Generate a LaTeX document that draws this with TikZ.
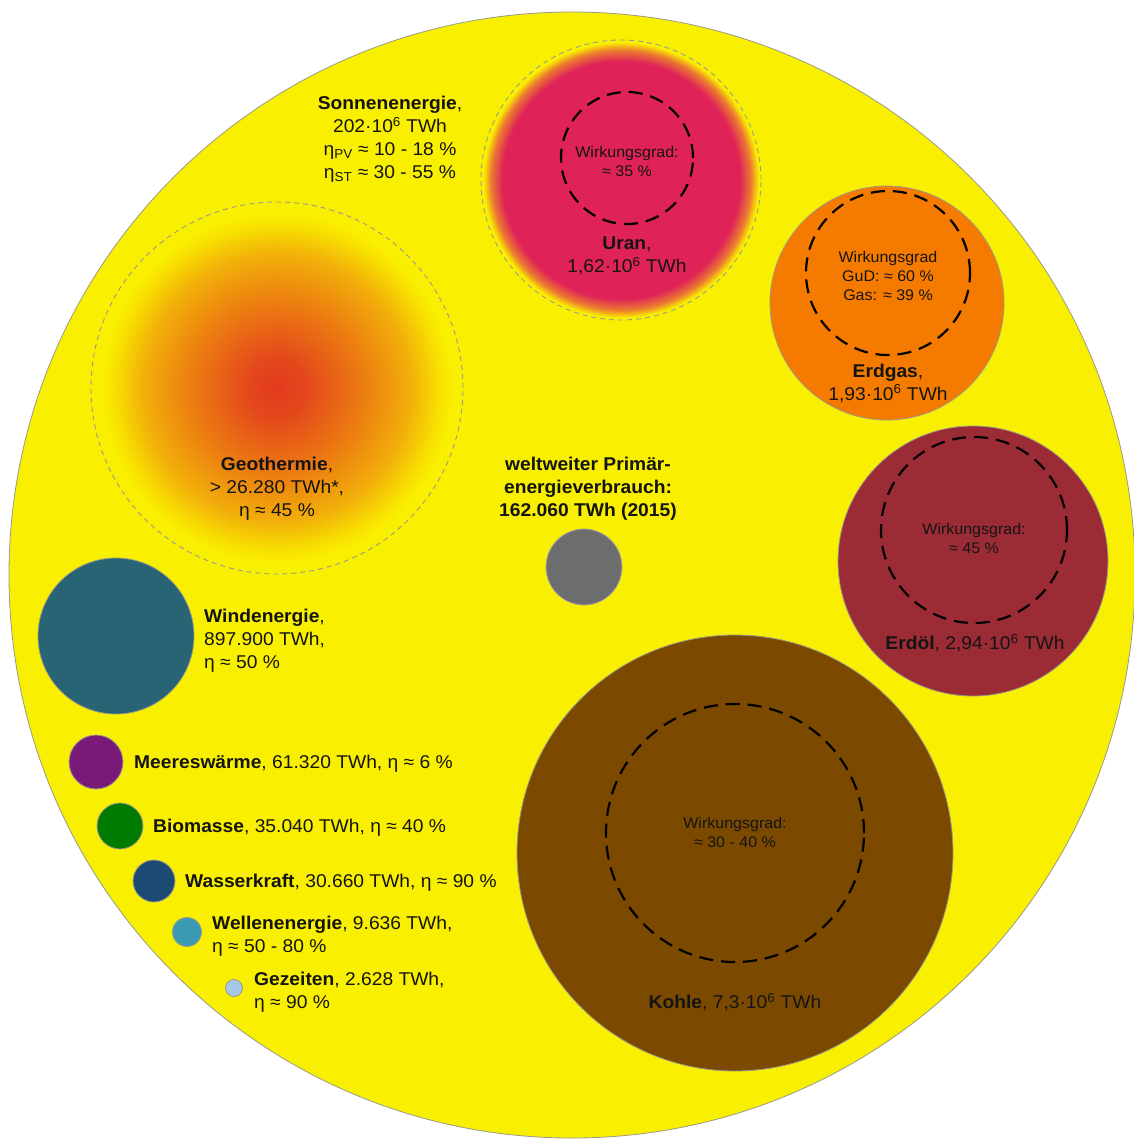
\documentclass[tikz,border=0pt]{standalone}
\usepackage{fontspec}
\setmainfont{Liberation Sans}[FakeStretch=1.04]
\definecolor{bgyellow}{HTML}{F9EF00}
\definecolor{uranpink}{HTML}{DF2358}
\definecolor{uranorange}{HTML}{EC7A30}
\definecolor{geored}{HTML}{E23A1E}
\definecolor{georedb}{HTML}{E4481C}
\definecolor{geoorange}{HTML}{EC8010}
\definecolor{geoamber}{HTML}{F2B00A}
\definecolor{geoyellow}{HTML}{F8E200}
\definecolor{gasorange}{HTML}{F57A00}
\definecolor{oilred}{HTML}{9B2C35}
\definecolor{coalbrown}{HTML}{7B4A00}
\definecolor{totalgray}{HTML}{6D6D6D}
\definecolor{windteal}{HTML}{286473}
\definecolor{seapurple}{HTML}{7A1A78}
\definecolor{biogreen}{HTML}{007A00}
\definecolor{hydroblue}{HTML}{1D4A72}
\definecolor{wavecyan}{HTML}{3C9AB2}
\definecolor{tidelight}{HTML}{A8C8E8}
\definecolor{txt}{HTML}{141414}
\definecolor{rimgray}{HTML}{9A9A8A}
\pgfdeclareradialshading{uranshade}{\pgfpointorigin}{color(0bp)=(uranpink); color(21.2bp)=(uranpink); color(23.2bp)=(uranorange); color(24.6bp)=(bgyellow); color(50bp)=(bgyellow)}
\pgfdeclareradialshading{geoshade}{\pgfpointorigin}{color(0bp)=(geored); color(4bp)=(georedb); color(12bp)=(geoorange); color(18bp)=(geoamber); color(22bp)=(geoyellow); color(23.5bp)=(bgyellow); color(50bp)=(bgyellow)}
\tikzset{
  disc/.style={circle, inner sep=0pt, outer sep=0pt, draw=rimgray, line width=0.8pt, minimum size=#1},
  halo/.style={circle, inner sep=0pt, outer sep=0pt, draw=gray!80, dash pattern=on 5pt off 4pt, line width=0.9pt, minimum size=#1},
  effring/.style={circle, inner sep=0pt, outer sep=0pt, draw=black, dash pattern=on 14pt off 8pt, line width=2.2pt, minimum size=#1},
  lbl/.style={font=\fontsize{18.5}{23}\selectfont, text=txt, inner sep=0pt, align=center},
  lbll/.style={font=\fontsize{18.5}{23}\selectfont, text=txt, inner sep=0pt, align=left, anchor=west},
  smalllbl/.style={font=\fontsize{15.4}{19}\selectfont, text=txt, inner sep=0pt, align=center}
}
\newcommand{\tenmio}{10\textsuperscript{6}}
\begin{document}
\begin{tikzpicture}[x=1pt,y=-1pt]
\useasboundingbox (0,0) rectangle (1134,1144);
\fill[white] (0,0) rectangle (1134,1144);
% world
\node[disc=1126, fill=bgyellow] (world) at (572,575) {};
% Uran
\node[halo=280, shading=uranshade] (uranhalo) at (621,180) {};
\node[effring=132] (uraneff) at (627,158) {};
\node[smalllbl] (uraneffl) at (627,161) {Wirkungsgrad:\\≈ 35 \%};
\node[lbl] (uranl) at (627,256) {\textbf{Uran},\\1,62·\tenmio{} TWh};
% Geothermie
\node[halo=372, shading=geoshade] (geohalo) at (277,388) {};
\node[lbl] (geol) at (277,489) {\textbf{Geothermie},\\> 26.280 TWh*,\\η ≈ 45 \%};
% Sonne
\node[lbl] (sunl) at (390,139) {\textbf{Sonnenenergie},\\202·\tenmio{} TWh\\η\textsubscript{PV} ≈ 10 - 18 \%\\η\textsubscript{ST} ≈ 30 - 55 \%};
% Erdgas
\node[disc=234, fill=gasorange] (gas) at (887,303) {};
\node[effring=164] (gaseff) at (888,273) {};
\node[smalllbl] (gaseffl) at (888,276) {Wirkungsgrad\\GuD: ≈ 60 \%\\Gas: ≈ 39 \%};
\node[lbl] (gasl) at (888,383) {\textbf{Erdgas},\\1,93·\tenmio{} TWh};
% Erdoel
\node[disc=270, fill=oilred] (oil) at (973,561) {};
\node[effring=186] (oileff) at (974,530) {};
\node[smalllbl] (oileffl) at (974,538) {Wirkungsgrad:\\≈ 45 \%};
\node[lbl] (oill) at (975,643) {\textbf{Erdöl}, 2,94·\tenmio{} TWh};
% Kohle
\node[disc=436, fill=coalbrown] (coal) at (735,853) {};
\node[effring=258] (coaleff) at (735,833) {};
\node[smalllbl] (coaleffl) at (735,832) {Wirkungsgrad:\\≈ 30 - 40 \%};
\node[lbl] (coall) at (735,1002) {\textbf{Kohle}, 7,3·\tenmio{} TWh};
% total
\node[disc=76, fill=totalgray, draw=totalgray!60] (total) at (584,567) {};
\node[lbl, font=\bfseries\fontsize{18.5}{23}\selectfont] (totall) at (588,489) {weltweiter Primär-\\energieverbrauch:\\162.060 TWh (2015)};
% Wind
\node[disc=156, fill=windteal] (wind) at (116,636) {};
\node[lbll] (windl) at (204,641) {\textbf{Windenergie},\\897.900 TWh,\\η ≈ 50 \%};
% small ones
\node[disc=54, fill=seapurple] (sea) at (96,762) {};
\node[lbll] (seal) at (134,764) {\textbf{Meereswärme}, 61.320 TWh, η ≈ 6 \%};
\node[disc=46, fill=biogreen] (bio) at (120,826) {};
\node[lbll] (biol) at (153,828) {\textbf{Biomasse}, 35.040 TWh, η ≈ 40 \%};
\node[disc=42, fill=hydroblue] (hydro) at (154,881) {};
\node[lbll] (hydrol) at (185,883) {\textbf{Wasserkraft}, 30.660 TWh, η ≈ 90 \%};
\node[disc=29, fill=wavecyan] (wave) at (187,932) {};
\node[lbll] (wavel) at (212,936) {\textbf{Wellenenergie}, 9.636 TWh,\\η ≈ 50 - 80 \%};
\node[disc=17, fill=tidelight] (tide) at (234,988) {};
\node[lbll] (tidel) at (254,992) {\textbf{Gezeiten}, 2.628 TWh,\\η ≈ 90 \%};
\end{tikzpicture}
\end{document}
